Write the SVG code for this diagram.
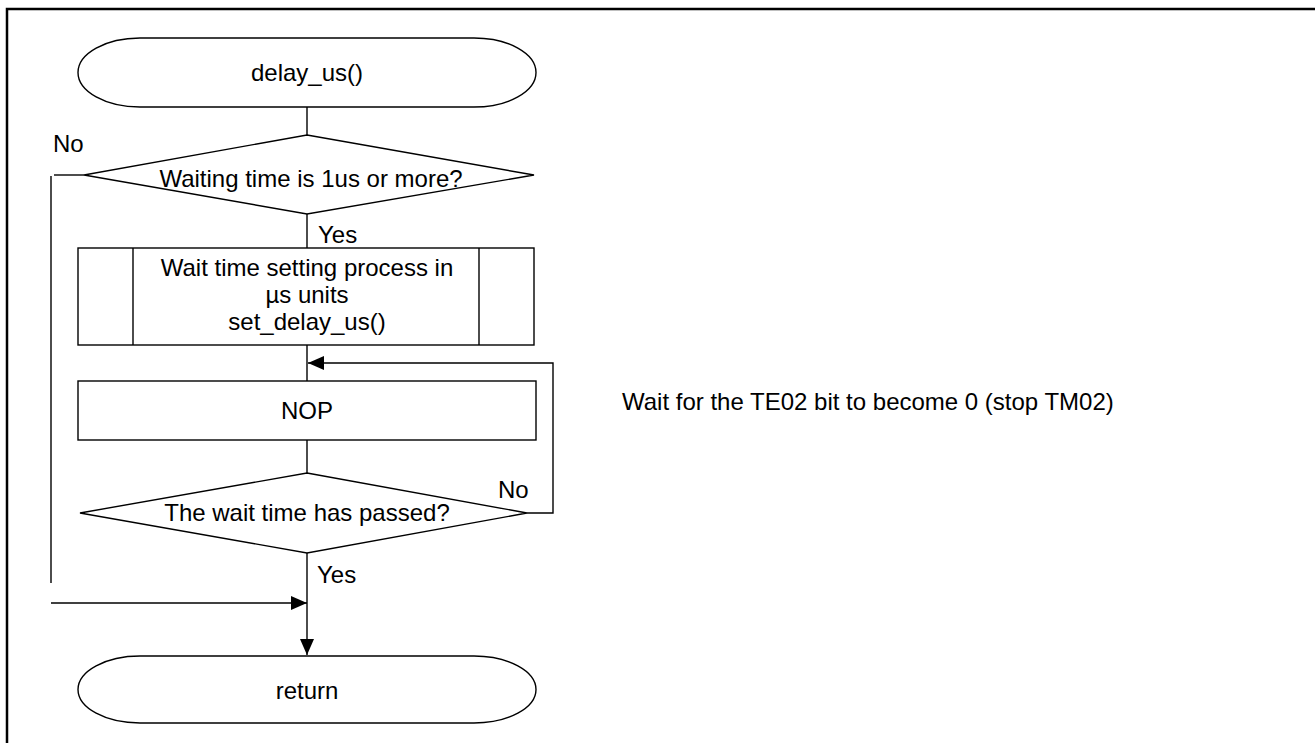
<svg xmlns="http://www.w3.org/2000/svg" width="1315" height="743" viewBox="0 0 1315 743">
<style>
.s{fill:#fff;stroke:#000;stroke-width:1.4}
.c{fill:none;stroke:#000;stroke-width:1.4}
.t{font-family:"Liberation Sans",Arial,sans-serif;font-size:24px;fill:#000}
.m{text-anchor:middle}
</style>
<defs>
<marker id="ah" viewBox="0 0 16 14" refX="16" refY="7" markerWidth="16" markerHeight="14" markerUnits="userSpaceOnUse" orient="auto">
<path d="M0,0 L16,7 L0,14 Z" fill="#000"/>
</marker>
</defs>
<rect width="1315" height="743" fill="#fff"/>
<g id="frame"><path d="M7,743 V9 H1315" fill="none" stroke="#000" stroke-width="2.5"/></g>
<g id="connectors">
<line class="c" x1="307" y1="107" x2="307" y2="135"/>
<line class="c" x1="307" y1="214" x2="307" y2="248"/>
<line class="c" x1="307" y1="345" x2="307" y2="381"/>
<line class="c" x1="307" y1="440" x2="307" y2="473"/>
<polyline class="c" points="84,175 54,175"/>
<line class="c" x1="51" y1="176" x2="51" y2="583"/>
<polyline class="c" points="527,513 553,513 553,363 308,363" marker-end="url(#ah)"/>
<line class="c" x1="51" y1="603" x2="307" y2="603" marker-end="url(#ah)"/>
<line class="c" x1="307" y1="553" x2="307" y2="655" marker-end="url(#ah)"/>
<text class="t" x="53" y="152">No</text>
<text class="t" x="318" y="243">Yes</text>
<text class="t" x="498" y="498">No</text>
<text class="t" x="317" y="583">Yes</text>
</g>
<g id="start">
<rect class="s" x="78" y="38" width="458" height="69" rx="62" ry="34.5"/>
<text class="t m" x="307" y="81">delay_us()</text>
</g>
<g id="check1">
<polygon class="s" points="307,135 534,175 307,214 84,175"/>
<text class="t m" x="311" y="187">Waiting time is 1us or more?</text>
</g>
<g id="setdelay">
<rect class="s" x="78" y="248" width="456" height="97"/>
<line class="c" x1="133" y1="248" x2="133" y2="345"/>
<line class="c" x1="479" y1="248" x2="479" y2="345"/>
<text class="t m" x="307" y="276">Wait time setting process in</text>
<text class="t m" x="307" y="303">µs units</text>
<text class="t m" x="307" y="330">set_delay_us()</text>
</g>
<g id="nop">
<rect class="s" x="78" y="381" width="458" height="59"/>
<text class="t m" x="307" y="419">NOP</text>
</g>
<g id="check2">
<polygon class="s" points="307,473 527,513 307,553 80,513"/>
<text class="t m" x="307" y="521">The wait time has passed?</text>
</g>
<g id="return">
<rect class="s" x="78" y="656" width="458" height="67" rx="62" ry="33.5"/>
<text class="t m" x="307" y="699">return</text>
</g>
<g id="note">
<text class="t" x="622" y="410">Wait for the TE02 bit to become 0 (stop TM02)</text>
</g>
</svg>
